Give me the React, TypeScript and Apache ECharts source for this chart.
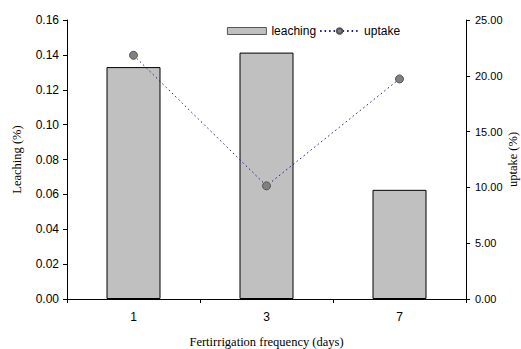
import React, { useEffect, useRef } from "react";
import * as echarts from "echarts";

const categories = ["1", "3", "7"];
const leaching = [0.133, 0.1413, 0.0626];
const uptake = [21.84, 10.14, 19.72];

export default function App() {
  const ref = useRef<HTMLDivElement>(null);
  useEffect(() => {
    if (!ref.current) return;
    const chart = echarts.init(ref.current, null, { renderer: "svg" });
    const sans = "'Liberation Sans', Arial, sans-serif";
    const serif = "'Liberation Serif', 'Times New Roman', serif";
    chart.setOption({
      animation: false,
      backgroundColor: "#ffffff",
      grid: {
        left: 67,
        right: 55,
        top: 20,
        bottom: 50,
        containLabel: false,
        outerBoundsMode: "none",
      },
      legend: {
        data: [
          { name: "leaching", icon: "rect", itemStyle: { borderWidth: 0.8, borderColor: "#333" } },
          { name: "uptake" },
        ],
        left: 227,
        top: 25,
        padding: 0,
        itemWidth: 39,
        itemHeight: 7,
        itemGap: 3,
        textStyle: { fontFamily: sans, fontSize: 12, color: "#000" },
      },
      xAxis: {
        type: "category",
        data: categories,
        boundaryGap: true,
        name: "Fertirrigation frequency (days)",
        nameLocation: "middle",
        nameGap: 36,
        nameTextStyle: { fontFamily: serif, fontSize: 12.5, color: "#000" },
        axisLine: { lineStyle: { color: "#000", width: 1 } },
        axisTick: { show: true, length: 4, lineStyle: { color: "#000" } },
        axisLabel: { fontFamily: sans, fontSize: 12, color: "#000", margin: 12 },
        splitLine: { show: false },
      },
      yAxis: [
        {
          type: "value",
          min: 0,
          max: 0.16,
          interval: 0.02,
          name: "Leaching (%)",
          nameLocation: "middle",
          nameRotate: 90,
          nameGap: 44,
          nameMoveOverlap: false,
          nameTextStyle: { fontFamily: serif, fontSize: 12.5, color: "#000" },
          axisLine: { show: true, lineStyle: { color: "#000", width: 1 } },
          axisTick: { show: true, length: 4, lineStyle: { color: "#000" } },
          axisLabel: {
            fontFamily: sans,
            fontSize: 12,
            color: "#000",
            margin: 8,
            formatter: (v: number) => v.toFixed(2),
          },
          splitLine: { show: false },
        },
        {
          type: "value",
          min: 0,
          max: 25,
          interval: 5,
          position: "right",
          name: "uptake (%)",
          nameLocation: "middle",
          nameRotate: 90,
          nameGap: 40,
          nameMoveOverlap: false,
          nameTextStyle: { fontFamily: serif, fontSize: 12.5, color: "#000" },
          axisLine: { show: true, lineStyle: { color: "#000", width: 1 } },
          axisTick: { show: true, length: 4, lineStyle: { color: "#000" } },
          axisLabel: {
            fontFamily: sans,
            fontSize: 11,
            color: "#000",
            margin: 9,
            formatter: (v: number) => v.toFixed(2),
          },
          splitLine: { show: false },
        },
      ],
      series: [
        {
          name: "leaching",
          type: "bar",
          yAxisIndex: 0,
          data: leaching,
          barWidth: 54,
          itemStyle: { color: "#c0c0c0", borderColor: "#000", borderWidth: 1 },
        },
        {
          name: "uptake",
          type: "line",
          yAxisIndex: 1,
          data: uptake,
          symbol: "circle",
          symbolSize: 8,
          lineStyle: { color: "#1a1a80", width: 1, type: [1.5, 3] },
          itemStyle: { color: "#808080", borderColor: "#555", borderWidth: 1 },
        },
      ],
    });
    return () => chart.dispose();
  }, []);
  return (
    <div
      ref={ref}
      style={{ position: "fixed", left: 0, top: 0, width: 521, height: 349 }}
    />
  );
}
